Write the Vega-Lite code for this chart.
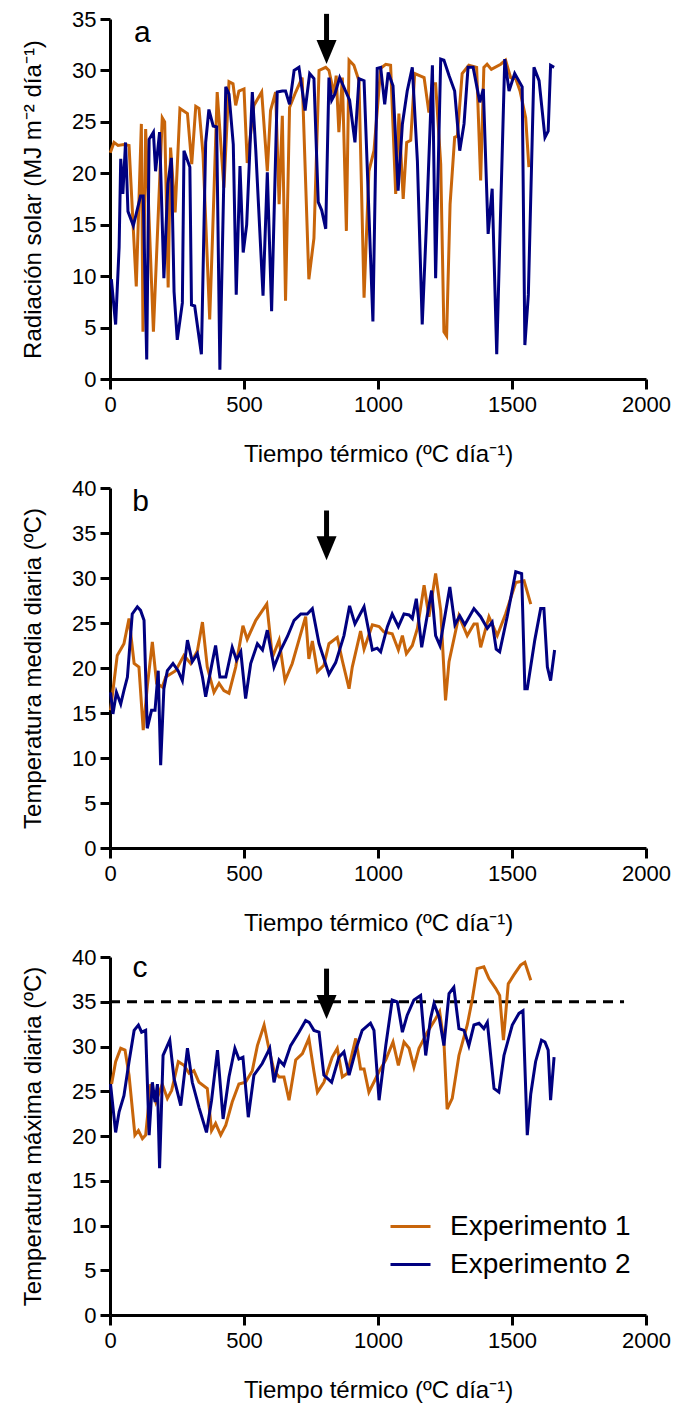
{
  "$schema": "https://vega.github.io/schema/vega-lite/v6.json",
  "padding": {"top": 8, "left": 21, "right": 5, "bottom": 5},
  "background": "white",
  "spacing": 109,
  "bounds": "flush",
  "config": {
    "font": "Liberation Sans",
    "view": {"stroke": null},
    "axis": {
      "grid": false, "domainColor": "black", "domainWidth": 3, "tickColor": "black", "tickWidth": 3, "tickSize": 10,
      "labelFontSize": 22, "labelColor": "black", "labelFont": "Liberation Sans", "labelFlush": false, "format": "d",
      "titleFontSize": 24, "titleFontWeight": "normal", "titleColor": "black", "titleFont": "Liberation Sans"
    },
    "line": {"strokeWidth": 3}
  },
  "resolve": {"legend": {"color": "independent"}},
  "datasets": {
    "rad": [
      {"x":1,"y":22.0,"exp":"Experimento 1"},{"x":15,"y":23.0,"exp":"Experimento 1"},{"x":30,"y":22.7,"exp":"Experimento 1"},{"x":52,"y":22.8,"exp":"Experimento 1"},{"x":71,"y":22.7,"exp":"Experimento 1"},{"x":98,"y":9.0,"exp":"Experimento 1"},{"x":117,"y":24.8,"exp":"Experimento 1"},{"x":123,"y":4.6,"exp":"Experimento 1"},{"x":133,"y":24.3,"exp":"Experimento 1"},{"x":162,"y":4.6,"exp":"Experimento 1"},{"x":195,"y":25.4,"exp":"Experimento 1"},{"x":204,"y":25.0,"exp":"Experimento 1"},{"x":217,"y":8.9,"exp":"Experimento 1"},{"x":226,"y":22.5,"exp":"Experimento 1"},{"x":243,"y":16.2,"exp":"Experimento 1"},{"x":261,"y":26.3,"exp":"Experimento 1"},{"x":289,"y":25.8,"exp":"Experimento 1"},{"x":305,"y":20.9,"exp":"Experimento 1"},{"x":320,"y":26.5,"exp":"Experimento 1"},{"x":332,"y":26.3,"exp":"Experimento 1"},{"x":347,"y":21.9,"exp":"Experimento 1"},{"x":372,"y":5.8,"exp":"Experimento 1"},{"x":382,"y":13.4,"exp":"Experimento 1"},{"x":400,"y":27.9,"exp":"Experimento 1"},{"x":425,"y":18.6,"exp":"Experimento 1"},{"x":444,"y":28.9,"exp":"Experimento 1"},{"x":459,"y":28.7,"exp":"Experimento 1"},{"x":469,"y":26.6,"exp":"Experimento 1"},{"x":481,"y":28.0,"exp":"Experimento 1"},{"x":500,"y":28.2,"exp":"Experimento 1"},{"x":512,"y":21.0,"exp":"Experimento 1"},{"x":537,"y":26.6,"exp":"Experimento 1"},{"x":566,"y":27.9,"exp":"Experimento 1"},{"x":587,"y":20.2,"exp":"Experimento 1"},{"x":599,"y":26.1,"exp":"Experimento 1"},{"x":618,"y":27.9,"exp":"Experimento 1"},{"x":631,"y":17.0,"exp":"Experimento 1"},{"x":643,"y":25.6,"exp":"Experimento 1"},{"x":655,"y":7.6,"exp":"Experimento 1"},{"x":670,"y":26.4,"exp":"Experimento 1"},{"x":693,"y":27.9,"exp":"Experimento 1"},{"x":717,"y":29.3,"exp":"Experimento 1"},{"x":742,"y":9.7,"exp":"Experimento 1"},{"x":761,"y":13.7,"exp":"Experimento 1"},{"x":780,"y":30.0,"exp":"Experimento 1"},{"x":805,"y":30.3,"exp":"Experimento 1"},{"x":817,"y":30.0,"exp":"Experimento 1"},{"x":836,"y":27.7,"exp":"Experimento 1"},{"x":844,"y":29.5,"exp":"Experimento 1"},{"x":854,"y":24.0,"exp":"Experimento 1"},{"x":867,"y":29.3,"exp":"Experimento 1"},{"x":882,"y":14.4,"exp":"Experimento 1"},{"x":892,"y":31.0,"exp":"Experimento 1"},{"x":910,"y":30.5,"exp":"Experimento 1"},{"x":929,"y":29.0,"exp":"Experimento 1"},{"x":948,"y":7.9,"exp":"Experimento 1"},{"x":966,"y":20.2,"exp":"Experimento 1"},{"x":985,"y":22.2,"exp":"Experimento 1"},{"x":1010,"y":30.2,"exp":"Experimento 1"},{"x":1029,"y":30.6,"exp":"Experimento 1"},{"x":1047,"y":30.5,"exp":"Experimento 1"},{"x":1066,"y":18.0,"exp":"Experimento 1"},{"x":1078,"y":25.8,"exp":"Experimento 1"},{"x":1094,"y":17.5,"exp":"Experimento 1"},{"x":1107,"y":23.0,"exp":"Experimento 1"},{"x":1122,"y":23.2,"exp":"Experimento 1"},{"x":1137,"y":29.7,"exp":"Experimento 1"},{"x":1155,"y":29.5,"exp":"Experimento 1"},{"x":1172,"y":29.3,"exp":"Experimento 1"},{"x":1190,"y":25.9,"exp":"Experimento 1"},{"x":1203,"y":28.7,"exp":"Experimento 1"},{"x":1215,"y":28.7,"exp":"Experimento 1"},{"x":1234,"y":20.9,"exp":"Experimento 1"},{"x":1246,"y":4.6,"exp":"Experimento 1"},{"x":1256,"y":4.2,"exp":"Experimento 1"},{"x":1269,"y":17.0,"exp":"Experimento 1"},{"x":1286,"y":23.5,"exp":"Experimento 1"},{"x":1296,"y":23.6,"exp":"Experimento 1"},{"x":1314,"y":29.7,"exp":"Experimento 1"},{"x":1339,"y":30.5,"exp":"Experimento 1"},{"x":1368,"y":30.3,"exp":"Experimento 1"},{"x":1383,"y":19.3,"exp":"Experimento 1"},{"x":1395,"y":30.3,"exp":"Experimento 1"},{"x":1407,"y":30.6,"exp":"Experimento 1"},{"x":1423,"y":30.1,"exp":"Experimento 1"},{"x":1458,"y":30.6,"exp":"Experimento 1"},{"x":1476,"y":31.0,"exp":"Experimento 1"},{"x":1495,"y":29.3,"exp":"Experimento 1"},{"x":1514,"y":29.2,"exp":"Experimento 1"},{"x":1530,"y":28.0,"exp":"Experimento 1"},{"x":1551,"y":25.4,"exp":"Experimento 1"},{"x":1563,"y":20.6,"exp":"Experimento 1"},
      {"x":5,"y":9.7,"exp":"Experimento 2"},{"x":21,"y":5.3,"exp":"Experimento 2"},{"x":34,"y":12.8,"exp":"Experimento 2"},{"x":40,"y":21.4,"exp":"Experimento 2"},{"x":48,"y":18.0,"exp":"Experimento 2"},{"x":58,"y":23.0,"exp":"Experimento 2"},{"x":67,"y":16.3,"exp":"Experimento 2"},{"x":87,"y":14.9,"exp":"Experimento 2"},{"x":114,"y":17.8,"exp":"Experimento 2"},{"x":124,"y":17.8,"exp":"Experimento 2"},{"x":137,"y":1.9,"exp":"Experimento 2"},{"x":146,"y":23.3,"exp":"Experimento 2"},{"x":162,"y":24.0,"exp":"Experimento 2"},{"x":170,"y":20.2,"exp":"Experimento 2"},{"x":185,"y":24.0,"exp":"Experimento 2"},{"x":201,"y":9.8,"exp":"Experimento 2"},{"x":216,"y":19.0,"exp":"Experimento 2"},{"x":229,"y":21.5,"exp":"Experimento 2"},{"x":239,"y":8.5,"exp":"Experimento 2"},{"x":251,"y":3.8,"exp":"Experimento 2"},{"x":270,"y":7.4,"exp":"Experimento 2"},{"x":276,"y":22.2,"exp":"Experimento 2"},{"x":298,"y":20.6,"exp":"Experimento 2"},{"x":304,"y":7.2,"exp":"Experimento 2"},{"x":316,"y":7.1,"exp":"Experimento 2"},{"x":341,"y":2.4,"exp":"Experimento 2"},{"x":357,"y":23.0,"exp":"Experimento 2"},{"x":369,"y":26.2,"exp":"Experimento 2"},{"x":385,"y":24.6,"exp":"Experimento 2"},{"x":398,"y":24.5,"exp":"Experimento 2"},{"x":410,"y":0.9,"exp":"Experimento 2"},{"x":432,"y":28.4,"exp":"Experimento 2"},{"x":444,"y":27.7,"exp":"Experimento 2"},{"x":460,"y":22.8,"exp":"Experimento 2"},{"x":471,"y":8.2,"exp":"Experimento 2"},{"x":485,"y":20.7,"exp":"Experimento 2"},{"x":497,"y":12.3,"exp":"Experimento 2"},{"x":510,"y":15.0,"exp":"Experimento 2"},{"x":531,"y":27.9,"exp":"Experimento 2"},{"x":544,"y":22.2,"exp":"Experimento 2"},{"x":571,"y":8.1,"exp":"Experimento 2"},{"x":587,"y":20.1,"exp":"Experimento 2"},{"x":603,"y":6.6,"exp":"Experimento 2"},{"x":624,"y":27.9,"exp":"Experimento 2"},{"x":643,"y":28.0,"exp":"Experimento 2"},{"x":655,"y":28.0,"exp":"Experimento 2"},{"x":670,"y":26.7,"exp":"Experimento 2"},{"x":687,"y":30.0,"exp":"Experimento 2"},{"x":705,"y":30.3,"exp":"Experimento 2"},{"x":728,"y":26.1,"exp":"Experimento 2"},{"x":745,"y":29.7,"exp":"Experimento 2"},{"x":761,"y":29.2,"exp":"Experimento 2"},{"x":777,"y":17.2,"exp":"Experimento 2"},{"x":790,"y":16.4,"exp":"Experimento 2"},{"x":805,"y":14.6,"exp":"Experimento 2"},{"x":817,"y":29.3,"exp":"Experimento 2"},{"x":827,"y":27.1,"exp":"Experimento 2"},{"x":839,"y":27.7,"exp":"Experimento 2"},{"x":857,"y":29.3,"exp":"Experimento 2"},{"x":879,"y":28.0,"exp":"Experimento 2"},{"x":894,"y":27.1,"exp":"Experimento 2"},{"x":914,"y":23.0,"exp":"Experimento 2"},{"x":929,"y":29.2,"exp":"Experimento 2"},{"x":948,"y":29.0,"exp":"Experimento 2"},{"x":981,"y":5.6,"exp":"Experimento 2"},{"x":997,"y":30.2,"exp":"Experimento 2"},{"x":1010,"y":30.3,"exp":"Experimento 2"},{"x":1025,"y":26.7,"exp":"Experimento 2"},{"x":1038,"y":29.8,"exp":"Experimento 2"},{"x":1056,"y":28.5,"exp":"Experimento 2"},{"x":1075,"y":18.3,"exp":"Experimento 2"},{"x":1091,"y":24.8,"exp":"Experimento 2"},{"x":1109,"y":28.0,"exp":"Experimento 2"},{"x":1128,"y":30.3,"exp":"Experimento 2"},{"x":1147,"y":21.2,"exp":"Experimento 2"},{"x":1165,"y":5.3,"exp":"Experimento 2"},{"x":1180,"y":14.6,"exp":"Experimento 2"},{"x":1203,"y":30.5,"exp":"Experimento 2"},{"x":1215,"y":9.8,"exp":"Experimento 2"},{"x":1234,"y":31.1,"exp":"Experimento 2"},{"x":1246,"y":31.0,"exp":"Experimento 2"},{"x":1265,"y":29.5,"exp":"Experimento 2"},{"x":1286,"y":28.0,"exp":"Experimento 2"},{"x":1305,"y":22.2,"exp":"Experimento 2"},{"x":1321,"y":24.8,"exp":"Experimento 2"},{"x":1336,"y":30.3,"exp":"Experimento 2"},{"x":1355,"y":30.3,"exp":"Experimento 2"},{"x":1380,"y":26.9,"exp":"Experimento 2"},{"x":1393,"y":28.2,"exp":"Experimento 2"},{"x":1411,"y":14.1,"exp":"Experimento 2"},{"x":1426,"y":18.5,"exp":"Experimento 2"},{"x":1443,"y":2.4,"exp":"Experimento 2"},{"x":1473,"y":31.1,"exp":"Experimento 2"},{"x":1489,"y":28.0,"exp":"Experimento 2"},{"x":1510,"y":29.7,"exp":"Experimento 2"},{"x":1538,"y":28.4,"exp":"Experimento 2"},{"x":1548,"y":3.3,"exp":"Experimento 2"},{"x":1561,"y":8.2,"exp":"Experimento 2"},{"x":1582,"y":30.3,"exp":"Experimento 2"},{"x":1601,"y":29.0,"exp":"Experimento 2"},{"x":1623,"y":23.5,"exp":"Experimento 2"},{"x":1635,"y":24.1,"exp":"Experimento 2"},{"x":1644,"y":30.5,"exp":"Experimento 2"},{"x":1657,"y":30.3,"exp":"Experimento 2"}
    ],
    "tmed": [
      {"x":2,"y":15.3,"exp":"Experimento 1"},{"x":27,"y":21.4,"exp":"Experimento 1"},{"x":52,"y":22.7,"exp":"Experimento 1"},{"x":71,"y":25.5,"exp":"Experimento 1"},{"x":90,"y":20.5,"exp":"Experimento 1"},{"x":108,"y":20.1,"exp":"Experimento 1"},{"x":124,"y":13.1,"exp":"Experimento 1"},{"x":139,"y":17.9,"exp":"Experimento 1"},{"x":158,"y":22.9,"exp":"Experimento 1"},{"x":174,"y":18.3,"exp":"Experimento 1"},{"x":195,"y":17.9,"exp":"Experimento 1"},{"x":208,"y":19.0,"exp":"Experimento 1"},{"x":245,"y":19.7,"exp":"Experimento 1"},{"x":276,"y":21.4,"exp":"Experimento 1"},{"x":301,"y":20.5,"exp":"Experimento 1"},{"x":326,"y":21.9,"exp":"Experimento 1"},{"x":345,"y":25.1,"exp":"Experimento 1"},{"x":363,"y":20.1,"exp":"Experimento 1"},{"x":388,"y":17.3,"exp":"Experimento 1"},{"x":407,"y":18.3,"exp":"Experimento 1"},{"x":425,"y":17.5,"exp":"Experimento 1"},{"x":444,"y":17.2,"exp":"Experimento 1"},{"x":469,"y":20.1,"exp":"Experimento 1"},{"x":496,"y":24.7,"exp":"Experimento 1"},{"x":512,"y":23.2,"exp":"Experimento 1"},{"x":544,"y":25.3,"exp":"Experimento 1"},{"x":585,"y":27.1,"exp":"Experimento 1"},{"x":606,"y":21.2,"exp":"Experimento 1"},{"x":631,"y":23.1,"exp":"Experimento 1"},{"x":653,"y":18.6,"exp":"Experimento 1"},{"x":680,"y":20.5,"exp":"Experimento 1"},{"x":730,"y":25.7,"exp":"Experimento 1"},{"x":742,"y":21.0,"exp":"Experimento 1"},{"x":755,"y":23.0,"exp":"Experimento 1"},{"x":774,"y":19.6,"exp":"Experimento 1"},{"x":798,"y":20.3,"exp":"Experimento 1"},{"x":817,"y":22.7,"exp":"Experimento 1"},{"x":848,"y":23.4,"exp":"Experimento 1"},{"x":867,"y":20.8,"exp":"Experimento 1"},{"x":892,"y":17.7,"exp":"Experimento 1"},{"x":904,"y":20.1,"exp":"Experimento 1"},{"x":935,"y":24.1,"exp":"Experimento 1"},{"x":948,"y":22.1,"exp":"Experimento 1"},{"x":979,"y":24.8,"exp":"Experimento 1"},{"x":1004,"y":24.6,"exp":"Experimento 1"},{"x":1022,"y":24.0,"exp":"Experimento 1"},{"x":1053,"y":23.8,"exp":"Experimento 1"},{"x":1076,"y":22.0,"exp":"Experimento 1"},{"x":1091,"y":23.6,"exp":"Experimento 1"},{"x":1106,"y":21.6,"exp":"Experimento 1"},{"x":1128,"y":22.5,"exp":"Experimento 1"},{"x":1147,"y":24.4,"exp":"Experimento 1"},{"x":1172,"y":29.2,"exp":"Experimento 1"},{"x":1190,"y":25.7,"exp":"Experimento 1"},{"x":1215,"y":30.5,"exp":"Experimento 1"},{"x":1234,"y":26.4,"exp":"Experimento 1"},{"x":1252,"y":16.4,"exp":"Experimento 1"},{"x":1265,"y":20.7,"exp":"Experimento 1"},{"x":1302,"y":25.8,"exp":"Experimento 1"},{"x":1333,"y":23.6,"exp":"Experimento 1"},{"x":1358,"y":24.9,"exp":"Experimento 1"},{"x":1370,"y":24.9,"exp":"Experimento 1"},{"x":1383,"y":22.3,"exp":"Experimento 1"},{"x":1414,"y":25.7,"exp":"Experimento 1"},{"x":1445,"y":23.6,"exp":"Experimento 1"},{"x":1476,"y":26.0,"exp":"Experimento 1"},{"x":1514,"y":29.5,"exp":"Experimento 1"},{"x":1545,"y":29.7,"exp":"Experimento 1"},{"x":1570,"y":27.1,"exp":"Experimento 1"},
      {"x":2,"y":17.3,"exp":"Experimento 2"},{"x":11,"y":14.9,"exp":"Experimento 2"},{"x":24,"y":17.3,"exp":"Experimento 2"},{"x":40,"y":16.0,"exp":"Experimento 2"},{"x":52,"y":17.5,"exp":"Experimento 2"},{"x":65,"y":19.0,"exp":"Experimento 2"},{"x":83,"y":26.0,"exp":"Experimento 2"},{"x":102,"y":26.8,"exp":"Experimento 2"},{"x":114,"y":26.4,"exp":"Experimento 2"},{"x":127,"y":25.3,"exp":"Experimento 2"},{"x":139,"y":13.3,"exp":"Experimento 2"},{"x":155,"y":15.3,"exp":"Experimento 2"},{"x":168,"y":15.3,"exp":"Experimento 2"},{"x":180,"y":19.7,"exp":"Experimento 2"},{"x":189,"y":9.2,"exp":"Experimento 2"},{"x":201,"y":17.7,"exp":"Experimento 2"},{"x":214,"y":19.7,"exp":"Experimento 2"},{"x":235,"y":20.5,"exp":"Experimento 2"},{"x":254,"y":19.7,"exp":"Experimento 2"},{"x":270,"y":18.6,"exp":"Experimento 2"},{"x":289,"y":23.1,"exp":"Experimento 2"},{"x":307,"y":20.7,"exp":"Experimento 2"},{"x":326,"y":21.6,"exp":"Experimento 2"},{"x":345,"y":19.0,"exp":"Experimento 2"},{"x":357,"y":16.8,"exp":"Experimento 2"},{"x":378,"y":20.1,"exp":"Experimento 2"},{"x":394,"y":22.5,"exp":"Experimento 2"},{"x":410,"y":19.0,"exp":"Experimento 2"},{"x":432,"y":19.0,"exp":"Experimento 2"},{"x":456,"y":22.3,"exp":"Experimento 2"},{"x":472,"y":20.9,"exp":"Experimento 2"},{"x":488,"y":21.8,"exp":"Experimento 2"},{"x":506,"y":16.6,"exp":"Experimento 2"},{"x":525,"y":20.5,"exp":"Experimento 2"},{"x":550,"y":22.7,"exp":"Experimento 2"},{"x":569,"y":22.0,"exp":"Experimento 2"},{"x":587,"y":24.2,"exp":"Experimento 2"},{"x":612,"y":20.1,"exp":"Experimento 2"},{"x":637,"y":22.0,"exp":"Experimento 2"},{"x":662,"y":23.5,"exp":"Experimento 2"},{"x":687,"y":25.3,"exp":"Experimento 2"},{"x":712,"y":26.0,"exp":"Experimento 2"},{"x":736,"y":26.0,"exp":"Experimento 2"},{"x":755,"y":26.6,"exp":"Experimento 2"},{"x":780,"y":22.7,"exp":"Experimento 2"},{"x":817,"y":19.3,"exp":"Experimento 2"},{"x":842,"y":20.6,"exp":"Experimento 2"},{"x":873,"y":23.6,"exp":"Experimento 2"},{"x":894,"y":26.9,"exp":"Experimento 2"},{"x":914,"y":24.9,"exp":"Experimento 2"},{"x":948,"y":26.8,"exp":"Experimento 2"},{"x":979,"y":22.0,"exp":"Experimento 2"},{"x":997,"y":22.2,"exp":"Experimento 2"},{"x":1010,"y":21.8,"exp":"Experimento 2"},{"x":1035,"y":24.6,"exp":"Experimento 2"},{"x":1053,"y":26.0,"exp":"Experimento 2"},{"x":1076,"y":24.6,"exp":"Experimento 2"},{"x":1097,"y":26.0,"exp":"Experimento 2"},{"x":1116,"y":25.9,"exp":"Experimento 2"},{"x":1128,"y":25.5,"exp":"Experimento 2"},{"x":1143,"y":27.7,"exp":"Experimento 2"},{"x":1163,"y":22.3,"exp":"Experimento 2"},{"x":1200,"y":28.6,"exp":"Experimento 2"},{"x":1215,"y":23.6,"exp":"Experimento 2"},{"x":1231,"y":22.5,"exp":"Experimento 2"},{"x":1268,"y":29.0,"exp":"Experimento 2"},{"x":1287,"y":24.8,"exp":"Experimento 2"},{"x":1305,"y":25.8,"exp":"Experimento 2"},{"x":1324,"y":24.8,"exp":"Experimento 2"},{"x":1358,"y":26.6,"exp":"Experimento 2"},{"x":1383,"y":25.7,"exp":"Experimento 2"},{"x":1408,"y":24.4,"exp":"Experimento 2"},{"x":1426,"y":25.1,"exp":"Experimento 2"},{"x":1441,"y":22.1,"exp":"Experimento 2"},{"x":1454,"y":21.8,"exp":"Experimento 2"},{"x":1482,"y":25.7,"exp":"Experimento 2"},{"x":1514,"y":30.7,"exp":"Experimento 2"},{"x":1536,"y":30.5,"exp":"Experimento 2"},{"x":1548,"y":17.7,"exp":"Experimento 2"},{"x":1557,"y":17.7,"exp":"Experimento 2"},{"x":1585,"y":23.1,"exp":"Experimento 2"},{"x":1607,"y":26.6,"exp":"Experimento 2"},{"x":1619,"y":26.6,"exp":"Experimento 2"},{"x":1632,"y":20.1,"exp":"Experimento 2"},{"x":1644,"y":18.6,"exp":"Experimento 2"},{"x":1659,"y":22.0,"exp":"Experimento 2"}
    ],
    "tmax": [
      {"x":6,"y":25.8,"exp":"Experimento 1"},{"x":21,"y":28.3,"exp":"Experimento 1"},{"x":40,"y":29.8,"exp":"Experimento 1"},{"x":56,"y":29.6,"exp":"Experimento 1"},{"x":71,"y":26.8,"exp":"Experimento 1"},{"x":93,"y":20.1,"exp":"Experimento 1"},{"x":106,"y":20.6,"exp":"Experimento 1"},{"x":121,"y":19.7,"exp":"Experimento 1"},{"x":133,"y":20.1,"exp":"Experimento 1"},{"x":152,"y":25.8,"exp":"Experimento 1"},{"x":171,"y":23.8,"exp":"Experimento 1"},{"x":195,"y":25.8,"exp":"Experimento 1"},{"x":214,"y":24.2,"exp":"Experimento 1"},{"x":230,"y":25.1,"exp":"Experimento 1"},{"x":255,"y":28.3,"exp":"Experimento 1"},{"x":276,"y":27.9,"exp":"Experimento 1"},{"x":295,"y":27.0,"exp":"Experimento 1"},{"x":313,"y":27.3,"exp":"Experimento 1"},{"x":332,"y":26.0,"exp":"Experimento 1"},{"x":363,"y":25.3,"exp":"Experimento 1"},{"x":379,"y":20.6,"exp":"Experimento 1"},{"x":394,"y":21.4,"exp":"Experimento 1"},{"x":413,"y":20.1,"exp":"Experimento 1"},{"x":432,"y":21.2,"exp":"Experimento 1"},{"x":456,"y":23.8,"exp":"Experimento 1"},{"x":481,"y":25.8,"exp":"Experimento 1"},{"x":506,"y":26.0,"exp":"Experimento 1"},{"x":531,"y":27.3,"exp":"Experimento 1"},{"x":550,"y":30.1,"exp":"Experimento 1"},{"x":575,"y":32.4,"exp":"Experimento 1"},{"x":594,"y":29.6,"exp":"Experimento 1"},{"x":612,"y":27.3,"exp":"Experimento 1"},{"x":631,"y":26.6,"exp":"Experimento 1"},{"x":649,"y":26.6,"exp":"Experimento 1"},{"x":668,"y":24.0,"exp":"Experimento 1"},{"x":693,"y":28.5,"exp":"Experimento 1"},{"x":718,"y":29.2,"exp":"Experimento 1"},{"x":742,"y":30.9,"exp":"Experimento 1"},{"x":761,"y":27.2,"exp":"Experimento 1"},{"x":774,"y":24.9,"exp":"Experimento 1"},{"x":798,"y":26.0,"exp":"Experimento 1"},{"x":829,"y":28.8,"exp":"Experimento 1"},{"x":848,"y":29.8,"exp":"Experimento 1"},{"x":867,"y":26.6,"exp":"Experimento 1"},{"x":886,"y":27.0,"exp":"Experimento 1"},{"x":917,"y":30.9,"exp":"Experimento 1"},{"x":935,"y":27.5,"exp":"Experimento 1"},{"x":948,"y":27.5,"exp":"Experimento 1"},{"x":966,"y":24.9,"exp":"Experimento 1"},{"x":991,"y":26.4,"exp":"Experimento 1"},{"x":1004,"y":27.2,"exp":"Experimento 1"},{"x":1029,"y":28.5,"exp":"Experimento 1"},{"x":1056,"y":30.5,"exp":"Experimento 1"},{"x":1076,"y":27.9,"exp":"Experimento 1"},{"x":1097,"y":30.5,"exp":"Experimento 1"},{"x":1116,"y":29.8,"exp":"Experimento 1"},{"x":1134,"y":27.7,"exp":"Experimento 1"},{"x":1153,"y":29.8,"exp":"Experimento 1"},{"x":1184,"y":31.6,"exp":"Experimento 1"},{"x":1215,"y":33.1,"exp":"Experimento 1"},{"x":1230,"y":33.9,"exp":"Experimento 1"},{"x":1246,"y":30.5,"exp":"Experimento 1"},{"x":1258,"y":23.0,"exp":"Experimento 1"},{"x":1277,"y":24.2,"exp":"Experimento 1"},{"x":1302,"y":29.0,"exp":"Experimento 1"},{"x":1333,"y":32.4,"exp":"Experimento 1"},{"x":1352,"y":35.3,"exp":"Experimento 1"},{"x":1370,"y":38.7,"exp":"Experimento 1"},{"x":1395,"y":38.9,"exp":"Experimento 1"},{"x":1414,"y":37.6,"exp":"Experimento 1"},{"x":1439,"y":36.5,"exp":"Experimento 1"},{"x":1454,"y":35.7,"exp":"Experimento 1"},{"x":1468,"y":30.7,"exp":"Experimento 1"},{"x":1486,"y":37.0,"exp":"Experimento 1"},{"x":1507,"y":38.0,"exp":"Experimento 1"},{"x":1532,"y":39.1,"exp":"Experimento 1"},{"x":1548,"y":39.4,"exp":"Experimento 1"},{"x":1570,"y":37.4,"exp":"Experimento 1"},
      {"x":2,"y":25.8,"exp":"Experimento 2"},{"x":21,"y":20.4,"exp":"Experimento 2"},{"x":34,"y":22.7,"exp":"Experimento 2"},{"x":52,"y":24.5,"exp":"Experimento 2"},{"x":71,"y":28.3,"exp":"Experimento 2"},{"x":90,"y":31.8,"exp":"Experimento 2"},{"x":106,"y":32.4,"exp":"Experimento 2"},{"x":118,"y":31.6,"exp":"Experimento 2"},{"x":133,"y":31.8,"exp":"Experimento 2"},{"x":146,"y":20.1,"exp":"Experimento 2"},{"x":158,"y":26.0,"exp":"Experimento 2"},{"x":168,"y":23.8,"exp":"Experimento 2"},{"x":177,"y":25.8,"exp":"Experimento 2"},{"x":185,"y":16.4,"exp":"Experimento 2"},{"x":198,"y":29.0,"exp":"Experimento 2"},{"x":223,"y":30.7,"exp":"Experimento 2"},{"x":239,"y":26.4,"exp":"Experimento 2"},{"x":264,"y":23.4,"exp":"Experimento 2"},{"x":289,"y":29.8,"exp":"Experimento 2"},{"x":307,"y":26.0,"exp":"Experimento 2"},{"x":332,"y":23.2,"exp":"Experimento 2"},{"x":360,"y":20.4,"exp":"Experimento 2"},{"x":379,"y":24.0,"exp":"Experimento 2"},{"x":401,"y":29.6,"exp":"Experimento 2"},{"x":422,"y":21.9,"exp":"Experimento 2"},{"x":444,"y":26.6,"exp":"Experimento 2"},{"x":466,"y":29.8,"exp":"Experimento 2"},{"x":481,"y":28.6,"exp":"Experimento 2"},{"x":496,"y":28.8,"exp":"Experimento 2"},{"x":516,"y":22.1,"exp":"Experimento 2"},{"x":537,"y":26.8,"exp":"Experimento 2"},{"x":568,"y":28.1,"exp":"Experimento 2"},{"x":596,"y":29.8,"exp":"Experimento 2"},{"x":612,"y":26.0,"exp":"Experimento 2"},{"x":631,"y":28.5,"exp":"Experimento 2"},{"x":649,"y":27.9,"exp":"Experimento 2"},{"x":674,"y":30.1,"exp":"Experimento 2"},{"x":705,"y":31.6,"exp":"Experimento 2"},{"x":730,"y":32.9,"exp":"Experimento 2"},{"x":743,"y":32.7,"exp":"Experimento 2"},{"x":761,"y":31.8,"exp":"Experimento 2"},{"x":780,"y":31.6,"exp":"Experimento 2"},{"x":798,"y":26.8,"exp":"Experimento 2"},{"x":827,"y":26.0,"exp":"Experimento 2"},{"x":854,"y":28.8,"exp":"Experimento 2"},{"x":873,"y":29.4,"exp":"Experimento 2"},{"x":892,"y":26.8,"exp":"Experimento 2"},{"x":919,"y":29.8,"exp":"Experimento 2"},{"x":941,"y":31.8,"exp":"Experimento 2"},{"x":972,"y":32.6,"exp":"Experimento 2"},{"x":985,"y":31.8,"exp":"Experimento 2"},{"x":1004,"y":24.0,"exp":"Experimento 2"},{"x":1029,"y":30.1,"exp":"Experimento 2"},{"x":1053,"y":35.2,"exp":"Experimento 2"},{"x":1072,"y":35.0,"exp":"Experimento 2"},{"x":1091,"y":31.6,"exp":"Experimento 2"},{"x":1109,"y":33.5,"exp":"Experimento 2"},{"x":1134,"y":35.2,"exp":"Experimento 2"},{"x":1159,"y":35.7,"exp":"Experimento 2"},{"x":1178,"y":29.0,"exp":"Experimento 2"},{"x":1196,"y":33.1,"exp":"Experimento 2"},{"x":1209,"y":34.8,"exp":"Experimento 2"},{"x":1228,"y":33.3,"exp":"Experimento 2"},{"x":1246,"y":30.1,"exp":"Experimento 2"},{"x":1265,"y":35.9,"exp":"Experimento 2"},{"x":1283,"y":36.6,"exp":"Experimento 2"},{"x":1302,"y":32.0,"exp":"Experimento 2"},{"x":1321,"y":31.8,"exp":"Experimento 2"},{"x":1339,"y":30.1,"exp":"Experimento 2"},{"x":1358,"y":32.4,"exp":"Experimento 2"},{"x":1377,"y":32.6,"exp":"Experimento 2"},{"x":1395,"y":32.0,"exp":"Experimento 2"},{"x":1408,"y":32.7,"exp":"Experimento 2"},{"x":1433,"y":25.3,"exp":"Experimento 2"},{"x":1451,"y":24.9,"exp":"Experimento 2"},{"x":1470,"y":29.0,"exp":"Experimento 2"},{"x":1501,"y":32.4,"exp":"Experimento 2"},{"x":1526,"y":33.7,"exp":"Experimento 2"},{"x":1541,"y":34.0,"exp":"Experimento 2"},{"x":1557,"y":20.1,"exp":"Experimento 2"},{"x":1570,"y":24.7,"exp":"Experimento 2"},{"x":1588,"y":28.3,"exp":"Experimento 2"},{"x":1610,"y":30.7,"exp":"Experimento 2"},{"x":1623,"y":30.5,"exp":"Experimento 2"},{"x":1635,"y":29.6,"exp":"Experimento 2"},{"x":1644,"y":24.0,"exp":"Experimento 2"},{"x":1657,"y":28.8,"exp":"Experimento 2"}
    ]
  },
  "vconcat": [
    {
      "width": 536, "height": 360,
      "layer": [
        {
          "data": {"name": "rad"},
          "mark": {"type": "line", "strokeWidth": 3},
          "encoding": {
            "x": {"field": "x", "type": "quantitative", "scale": {"domain": [0, 2000], "nice": false},
                  "axis": {"values": [0, 500, 1000, 1500, 2000], "title": "Tiempo térmico (ºC día⁻¹)", "labelPadding": 5, "titlePadding": 27}},
            "y": {"field": "y", "type": "quantitative", "scale": {"domain": [0, 35], "nice": false},
                  "axis": {"values": [0, 5, 10, 15, 20, 25, 30, 35], "title": "Radiación solar (MJ m⁻² día⁻¹)", "labelPadding": 4, "titlePadding": 26}},
            "color": {"field": "exp", "type": "nominal", "scale": {"domain": ["Experimento 1", "Experimento 2"], "range": ["#C8650A", "#000080"]}, "legend": null}
          }
        },
        {
          "data": {"values": [{"x": 808, "y": 35.5, "y2": 31.8}]},
          "mark": {"type": "rule", "strokeWidth": 5, "color": "black", "clip": false},
          "encoding": {"x": {"field": "x", "type": "quantitative"}, "y": {"field": "y", "type": "quantitative"}, "y2": {"field": "y2"}}
        },
        {
          "data": {"values": [{"x": 808, "y": 31.8}]},
          "mark": {"type": "point", "shape": "M-1,-1.2L1,-1.2L0,1.2Z", "size": 400, "filled": true, "color": "black", "opacity": 1},
          "encoding": {"x": {"field": "x", "type": "quantitative"}, "y": {"field": "y", "type": "quantitative"}}
        },
        {
          "data": {"values": [{"x": 121, "y": 33.6, "t": "a"}]},
          "mark": {"type": "text", "fontSize": 30, "color": "black", "baseline": "middle", "align": "center"},
          "encoding": {"x": {"field": "x", "type": "quantitative"}, "y": {"field": "y", "type": "quantitative"}, "text": {"field": "t"}}
        }
      ]
    },
    {
      "width": 536, "height": 360,
      "layer": [
        {
          "data": {"name": "tmed"},
          "mark": {"type": "line", "strokeWidth": 3},
          "encoding": {
            "x": {"field": "x", "type": "quantitative", "scale": {"domain": [0, 2000], "nice": false},
                  "axis": {"values": [0, 500, 1000, 1500, 2000], "title": "Tiempo térmico (ºC día⁻¹)", "labelPadding": 5, "titlePadding": 27}},
            "y": {"field": "y", "type": "quantitative", "scale": {"domain": [0, 40], "nice": false},
                  "axis": {"values": [0, 5, 10, 15, 20, 25, 30, 35, 40], "title": "Temperatura media diaria (ºC)", "labelPadding": 4, "titlePadding": 26}},
            "color": {"field": "exp", "type": "nominal", "scale": {"domain": ["Experimento 1", "Experimento 2"], "range": ["#C8650A", "#000080"]}, "legend": null}
          }
        },
        {
          "data": {"values": [{"x": 808, "y": 37.5, "y2": 33.3}]},
          "mark": {"type": "rule", "strokeWidth": 5, "color": "black", "clip": false},
          "encoding": {"x": {"field": "x", "type": "quantitative"}, "y": {"field": "y", "type": "quantitative"}, "y2": {"field": "y2"}}
        },
        {
          "data": {"values": [{"x": 808, "y": 33.3}]},
          "mark": {"type": "point", "shape": "M-1,-1.2L1,-1.2L0,1.2Z", "size": 400, "filled": true, "color": "black", "opacity": 1},
          "encoding": {"x": {"field": "x", "type": "quantitative"}, "y": {"field": "y", "type": "quantitative"}}
        },
        {
          "data": {"values": [{"x": 114, "y": 38.5, "t": "b"}]},
          "mark": {"type": "text", "fontSize": 30, "color": "black", "baseline": "middle", "align": "center"},
          "encoding": {"x": {"field": "x", "type": "quantitative"}, "y": {"field": "y", "type": "quantitative"}, "text": {"field": "t"}}
        }
      ]
    },
    {
      "width": 536, "height": 358,
      "layer": [
        {
          "data": {"values": [{"x": 0, "x2": 1918, "y": 35}]},
          "mark": {"type": "rule", "strokeWidth": 3, "strokeDash": [10, 7], "color": "black"},
          "encoding": {"x": {"field": "x", "type": "quantitative"}, "x2": {"field": "x2"}, "y": {"field": "y", "type": "quantitative"}}
        },
        {
          "data": {"name": "tmax"},
          "mark": {"type": "line", "strokeWidth": 3},
          "encoding": {
            "x": {"field": "x", "type": "quantitative", "scale": {"domain": [0, 2000], "nice": false},
                  "axis": {"values": [0, 500, 1000, 1500, 2000], "title": "Tiempo térmico (ºC día⁻¹)", "labelPadding": 5, "titlePadding": 27}},
            "y": {"field": "y", "type": "quantitative", "scale": {"domain": [0, 40], "nice": false},
                  "axis": {"values": [0, 5, 10, 15, 20, 25, 30, 35, 40], "title": "Temperatura máxima diaria (ºC)", "labelPadding": 4, "titlePadding": 26}},
            "color": {"field": "exp", "type": "nominal", "scale": {"domain": ["Experimento 1", "Experimento 2"], "range": ["#C8650A", "#000080"]},
                      "legend": {"orient": "none", "legendX": 279, "legendY": 248, "title": null, "symbolType": "stroke", "symbolSize": 1600, "symbolStrokeWidth": 3, "labelFontSize": 28, "labelOffset": 18, "labelLimit": 400, "rowPadding": 2, "labelColor": "black", "labelFont": "Liberation Sans"}}
          }
        },
        {
          "data": {"values": [{"x": 808, "y": 38.7, "y2": 34.4}]},
          "mark": {"type": "rule", "strokeWidth": 5, "color": "black", "clip": false},
          "encoding": {"x": {"field": "x", "type": "quantitative"}, "y": {"field": "y", "type": "quantitative"}, "y2": {"field": "y2"}}
        },
        {
          "data": {"values": [{"x": 808, "y": 34.4}]},
          "mark": {"type": "point", "shape": "M-1,-1.2L1,-1.2L0,1.2Z", "size": 400, "filled": true, "color": "black", "opacity": 1},
          "encoding": {"x": {"field": "x", "type": "quantitative"}, "y": {"field": "y", "type": "quantitative"}}
        },
        {
          "data": {"values": [{"x": 112, "y": 38.8, "t": "c"}]},
          "mark": {"type": "text", "fontSize": 30, "color": "black", "baseline": "middle", "align": "center"},
          "encoding": {"x": {"field": "x", "type": "quantitative"}, "y": {"field": "y", "type": "quantitative"}, "text": {"field": "t"}}
        }
      ]
    }
  ]
}
